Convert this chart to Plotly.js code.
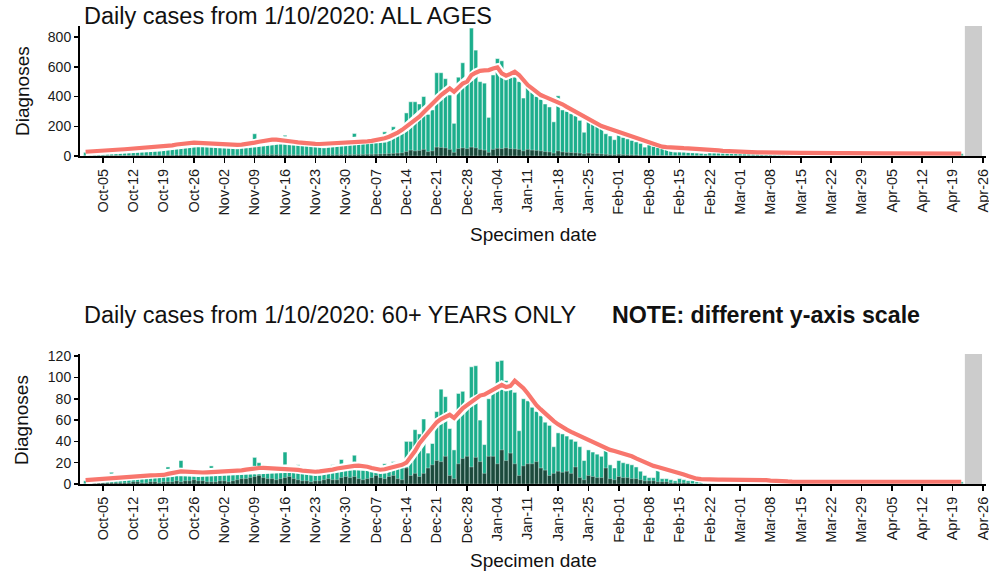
<!DOCTYPE html>
<html>
<head>
<meta charset="utf-8">
<script src="https://cdn.plot.ly/plotly-3.0.1.min.js"></script>
<style>html,body{margin:0;padding:0;background:#fff}</style>
</head>
<body>
<div id="chart" style="width:989px;height:574px"></div>
<script>
// Daily series from 2020-10-01 to 2021-04-21 (one value per day)
const startDay = '2020-10-01';

// ALL AGES: daily diagnoses (total bars)
const allCases = [
  // Oct
  25,28,30,31,34,36,40,42,45,44,47,50,52,51,56,55,58,60,63,68,75,80,82,86,90,92,88,86,82,78,76,
  // Nov
  75,76,74,73,75,78,82,86,150,98,104,110,108,106,104,140,100,95,92,88,84,82,80,80,82,84,86,88,90,92,
  // Dec
  92,152,95,98,100,102,106,112,163,120,197,160,175,290,365,365,350,400,280,310,560,560,520,410,220,530,627,500,860,712,500,
  // Jan
  490,260,545,655,640,560,540,530,500,390,480,430,400,380,350,330,230,405,310,300,285,270,240,160,250,235,205,185,150,135,110,
  // Feb
  150,125,115,105,95,85,60,75,65,58,50,45,40,28,35,30,25,22,20,18,15,40,38,35,33,30,28,27,
  // Mar
  28,27,26,26,25,25,24,24,24,23,23,23,22,22,22,22,21,21,21,21,20,20,20,20,20,19,19,19,19,19,19,
  // Apr
  18,18,18,18,18,18,18,18,17,17,17,17,17,17,17,17,17,17,16,16,16
];
// ALL AGES: dark sub-series
const allDark = [
  2,2,3,3,3,3,4,4,4,4,4,5,5,5,5,5,5,6,6,6,6,7,7,7,7,7,6,6,6,6,6,
  6,6,6,6,6,7,7,8,9,10,10,10,10,10,9,9,9,8,8,8,8,8,8,8,8,9,9,9,10,10,
  10,10,11,11,12,12,13,14,15,16,18,20,22,30,40,35,38,45,30,35,60,58,55,45,25,50,55,50,60,55,45,
  40,25,45,52,50,55,50,48,45,35,45,40,38,35,30,28,20,35,28,25,24,22,20,14,20,18,16,14,12,10,9,
  12,10,9,8,7,6,5,6,5,4,4,3,3,2,3,2,2,2,2,1,1,1,1,1,1,1,1,1,
  1,1,1,1,1,1,1,1,1,1,1,1,1,1,1,1,1,1,1,1,1,1,1,1,1,1,1,1,1,1,1,
  1,1,1,1,1,1,1,1,1,1,1,1,1,1,1,1,1,1,1,1,1
];
// ALL AGES: rolling average line
const allAvg = [
  29,30,31,33,35,37,39,41,44,46,48,50,52,53,55,56,58,59,62,66,72,78,82,85,88,90,89,87,84,81,79,
  77,76,75,74,75,77,80,84,90,96,102,107,110,110,108,104,100,96,92,88,85,83,82,81,82,84,86,88,90,92,
  93,94,95,97,99,102,106,112,120,130,142,158,176,196,220,243,264,294,325,356,387,410,432,455,432,462,488,500,544,560,573,
  576,578,588,596,555,540,552,567,545,510,477,455,432,410,398,386,376,365,348,331,314,298,282,267,253,236,219,202,192,182,173,
  164,154,144,134,122,111,100,90,81,72,63,60,57,55,54,53,52,51,49,47,45,43,41,38,35,33,31,30,
  28,27,26,26,25,25,24,24,24,23,23,23,22,22,22,22,21,21,21,21,20,20,20,20,20,19,19,19,19,19,19,
  18,18,18,18,18,18,18,18,17,17,17,17,17,17,17,17,17,17,16,16,16
];

// 60+ YEARS: daily diagnoses
const sixtyCases = [
  3,4,4,5,5,6,11,6,7,7,7,7,8,8,8,8,8,8,9,16,10,11,22,12,11,10,10,11,11,17,11,
  11,12,11,12,12,13,14,14,25,20,15,15,15,14,14,30,14,14,18,12,12,11,11,12,12,12,18,14,23,16,
  17,27,17,17,16,15,14,13,19,15,21,18,19,40,40,51,47,61,29,38,68,89,82,52,32,85,87,71,110,111,60,
  37,80,88,115,116,97,90,86,50,80,78,72,68,64,58,55,35,48,47,45,42,40,35,22,32,30,28,26,37,18,15,
  22,20,19,18,16,12,8,6,6,14,5,5,4,3,5,4,3,3,2,2,2,4,4,4,4,4,4,4,
  4,4,4,4,4,4,4,3,3,3,2,2,2,2,2,2,2,2,2,2,2,2,2,2,2,2,2,2,2,2,2,
  2,2,2,2,2,2,2,2,2,2,2,2,2,2,2,2,2,2,2,2,2
];
const sixtyDark = [
  0,0,1,1,1,1,1,1,1,1,1,2,2,1,1,2,2,1,2,2,2,3,2,3,3,4,3,3,2,2,2,
  3,3,2,3,4,5,5,6,7,8,6,5,5,4,5,6,7,5,4,3,3,2,3,3,4,5,4,4,6,7,
  6,7,5,4,5,6,8,6,5,7,8,5,4,15,8,10,7,10,15,18,22,21,26,8,5,19,24,26,16,25,21,
  10,26,26,19,32,22,29,19,8,17,19,19,21,15,13,8,10,12,11,12,10,16,6,4,8,7,6,6,15,5,4,
  7,6,6,5,5,4,3,3,3,2,2,2,1,1,1,1,1,0,0,0,0,0,0,0,0,0,0,0,
  0,0,0,0,0,0,0,0,0,0,0,0,0,0,0,0,0,0,0,0,0,0,0,0,0,0,0,0,0,0,0,
  0,0,0,0,0,0,0,0,0,0,0,0,0,0,0,0,0,0,0,0,0
];
const sixtyAvg = [
  3.7,4.0,4.4,4.8,5.2,5.6,6.0,6.4,6.8,7.1,7.3,7.5,7.7,7.9,8.0,8.1,8.2,8.3,8.5,9.5,10.5,11.5,11.8,11.6,11.2,10.8,10.6,10.8,11.0,11.2,11.4,
  11.5,11.5,11.6,11.8,12.2,12.8,13.5,14.2,14.7,15.0,15.2,15.0,14.8,14.6,14.6,14.7,14.5,14.0,13.2,12.6,12.0,11.6,11.5,11.8,12.2,12.5,13.5,14.6,15.4,16.0,
  16.5,17.0,17.2,17.0,16.2,15.0,13.8,13.4,13.8,14.7,16.0,17.0,18.0,20,25,31,38,43,48,53,58,61,63,65,62,67,71,74,77,80,83,
  84,86,88,91,93,91,92,97,94,90,85,79,74,70,66,62,59,56,53,51,49,47,45,43,42,40,38,36,34,32,31,
  30,29,27,26,24,22,20,18,17,16,15,14,13,12,11,9,7.5,6,5,4.6,4.3,4.2,4.2,4.2,4.2,4.2,4.2,4.2,
  4.2,4.2,4.1,4.0,3.9,3.8,3.6,3.2,2.8,2.6,2.5,2.4,2.3,2.3,2.2,2.2,2.2,2.2,2.2,2.2,2.2,2.2,2.2,2.2,2.2,2.2,2.2,2.2,2.2,2.2,2.2,
  2.2,2.2,2.1,2.1,2.1,2.0,2.0,2.0,2.0,2.0,2.0,2.0,2.0,2.0,2.0,2.0,2.0,2.1,2.1,2.1,2.1
];

// Axis tick labels (weekly Mondays)
const firstTick = '2020-10-05';
const nTicks = 30;
const allTicks = [0,200,400,600,800];
const sixtyTicks = [0,20,40,60,80,100,120];

// Titles
const titleTop = 'Daily cases from 1/10/2020: ALL AGES';
const titleBottom = 'Daily cases from 1/10/2020: 60+ YEARS ONLY';
const noteText = 'NOTE: different y-axis scale';
const xTitle = 'Specimen date';
const yTitle = 'Diagnoses';

function isoDay(base, offset) {
  const p = base.split('-').map(Number);
  const d = new Date(Date.UTC(p[0], p[1]-1, p[2]) + offset*86400000);
  return d.toISOString().slice(0,10);
}
const dates = allCases.map((_, i) => isoDay(startDay, i));
const tickvals = [];
for (let i = 0; i < nTicks; i++) tickvals.push(isoDay(firstTick, 7*i));

const TEAL = '#1cae8c';
const DARK = '#1b4a3c';
const RED = '#f8766d';

function panel(xa, ya, total, dark, avg) {
  return [
    {type:'bar', x:dates, y:total, xaxis:xa, yaxis:ya, marker:{color:TEAL, line:{color:'#ffffff', width:0.5}}, hoverinfo:'skip'},
    {type:'bar', x:dates, y:dark, xaxis:xa, yaxis:ya, marker:{color:DARK, line:{color:'#ffffff', width:0.3}}, hoverinfo:'skip'},
    {type:'scatter', mode:'lines', x:dates, y:avg, xaxis:xa, yaxis:ya, line:{color:'#ffffff', width:8.5}, hoverinfo:'skip'},
    {type:'scatter', mode:'lines', x:dates, y:avg, xaxis:xa, yaxis:ya, line:{color:RED, width:4.2}, hoverinfo:'skip'}
  ];
}

const data = [].concat(
  panel('x', 'y', allCases, allDark, allAvg),
  panel('x2', 'y2', sixtyCases, sixtyDark, sixtyAvg)
);

const FONT = '"Liberation Sans", Arial, sans-serif';
const xRange = ['2020-09-29 17:00', '2021-04-26 17:00'];
function xAxis(anchor) {
  return {
    type:'date', range:xRange, anchor:anchor, tickvals:tickvals, tickformat:'%b-%d',
    tickangle:-90, ticks:'outside', ticklen:5, tickwidth:1.5, tickcolor:'#000',
    ticklabeloverflow:'allow',
    showline:true, linecolor:'#000', linewidth:2, showgrid:false, zeroline:false,
    tickfont:{family:FONT, size:14.5, color:'#1a1a1a'}, fixedrange:true
  };
}
function yAxis(domain, range, ticks, anchor) {
  return {
    domain:domain, range:range, anchor:anchor, tickvals:ticks, ticks:'outside', ticklen:4,
    tickwidth:1.5, tickcolor:'#000', showline:true, linecolor:'#000', linewidth:2,
    showgrid:false, zeroline:false, tickfont:{family:FONT, size:14, color:'#1a1a1a'}, fixedrange:true
  };
}

const greyX0 = '2021-04-21 20:00', greyX1 = '2021-04-25 19:00';

const layout = {
  width:989, height:574,
  margin:{l:80, r:3, t:26, b:90},
  paper_bgcolor:'#ffffff', plot_bgcolor:'#ffffff',
  showlegend:false, barmode:'overlay', bargap:0.08,
  font:{family:FONT, color:'#1a1a1a'},
  xaxis: xAxis('y'),
  yaxis: yAxis([0.716, 1], [0, 874], allTicks, 'x'),
  xaxis2: xAxis('y2'),
  yaxis2: yAxis([0, 0.2838], [0, 122], sixtyTicks, 'x2'),
  shapes: [
    {type:'rect', xref:'x', yref:'y domain', x0:greyX0, x1:greyX1, y0:0, y1:1, fillcolor:'#cccccc', line:{width:0}, layer:'below'},
    {type:'rect', xref:'x2', yref:'y2 domain', x0:greyX0, x1:greyX1, y0:0, y1:1, fillcolor:'#cccccc', line:{width:0}, layer:'below'}
  ],
  annotations: [
    {text:titleTop, xref:'paper', yref:'paper', x:0.002, y:1.0218, xanchor:'left', yanchor:'middle', showarrow:false, font:{family:FONT, size:23.5, color:'#111'}},
    {text:titleBottom, xref:'paper', yref:'paper', x:0.002, y:0.369, xanchor:'left', yanchor:'middle', showarrow:false, font:{family:FONT, size:23.5, color:'#111'}},
    {text:'<b>'+noteText+'</b>', xref:'paper', yref:'paper', x:0.585, y:0.369, xanchor:'left', yanchor:'middle', showarrow:false, font:{family:FONT, size:23.2, color:'#111'}},
    {text:xTitle, xref:'paper', yref:'paper', x:0.501, y:0.5437, xanchor:'center', yanchor:'middle', showarrow:false, font:{family:FONT, size:19, color:'#111'}},
    {text:xTitle, xref:'paper', yref:'paper', x:0.501, y:-0.166, xanchor:'center', yanchor:'middle', showarrow:false, font:{family:FONT, size:19, color:'#111'}},
    {text:yTitle, xref:'paper', yref:'paper', x:-0.064, y:0.858, xanchor:'center', yanchor:'middle', textangle:-90, showarrow:false, font:{family:FONT, size:19, color:'#111'}},
    {text:yTitle, xref:'paper', yref:'paper', x:-0.064, y:0.14, xanchor:'center', yanchor:'middle', textangle:-90, showarrow:false, font:{family:FONT, size:19, color:'#111'}}
  ]
};

Plotly.newPlot('chart', data, layout, {staticPlot:true, displayModeBar:false});
</script>
</body>
</html>
